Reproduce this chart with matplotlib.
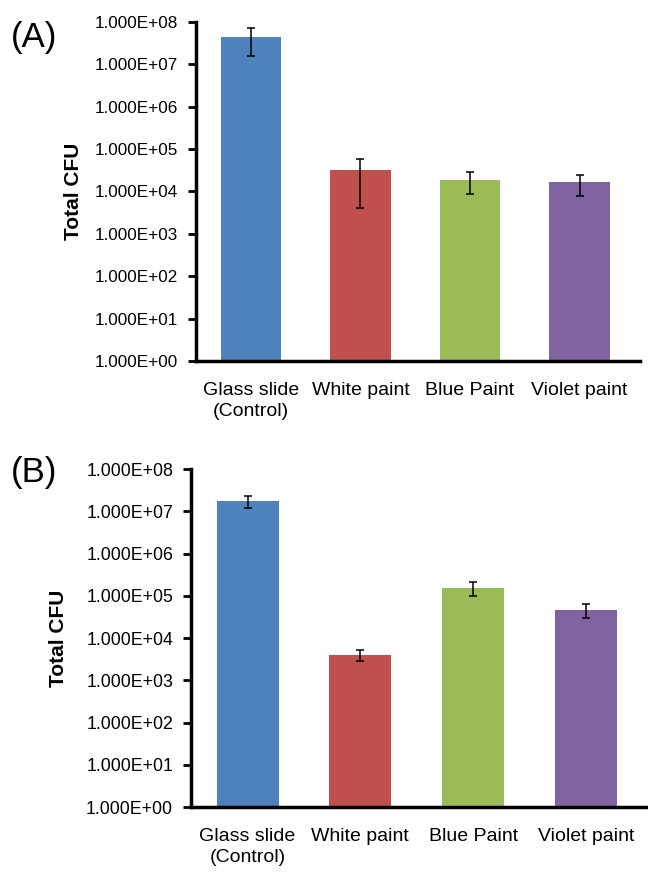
import matplotlib
matplotlib.use("Agg")
import matplotlib.pyplot as plt
from matplotlib.ticker import FixedLocator, FuncFormatter, NullLocator

plt.rcParams['font.family'] = ['Liberation Sans', 'DejaVu Sans']

# Data
materials = ['Glass slide\n(Control)', 'White paint', 'Blue Paint', 'Violet paint']
bar_colors = ['#4F81BD', '#C0504D', '#9BBB59', '#8064A2']

cfu_a = [4.5e7, 3.2e4, 1.9e4, 1.65e4]
err_a = [2.9e7, 2.8e4, 1.05e4, 8.5e3]

cfu_b = [1.75e7, 4.0e3, 1.55e5, 4.6e4]
err_b = [5.5e6, 1.1e3, 5.5e4, 1.7e4]

y_ticks = [10.0 ** k for k in range(0, 9)]


# Function to draw one log-scale bar panel.
def plot_cfu_panel(ax, values, errors, tick_size, label_x):
    x = list(range(len(materials)))
    ax.bar(x, values, width=0.55, color=bar_colors, zorder=2)
    ax.errorbar(x, values, yerr=errors, fmt='none', ecolor='black',
                elinewidth=1.1, capsize=2.8, capthick=1.1, zorder=3)

    ax.set_yscale('log')
    ax.set_ylim(1, 1e8)
    ax.set_xlim(-0.5, 3.55)
    ax.yaxis.set_major_locator(FixedLocator(y_ticks))
    ax.yaxis.set_minor_locator(NullLocator())
    ax.yaxis.set_major_formatter(FuncFormatter(lambda v, pos: f"{v:.3E}"))

    ax.set_xticks(x)
    ax.set_xticklabels(materials, fontsize=14, linespacing=1.35)
    ax.tick_params(axis='x', length=0, pad=15)
    ax.tick_params(axis='y', length=6, width=2, labelsize=tick_size, pad=7)

    for side in ['top', 'right']:
        ax.spines[side].set_visible(False)
    for side in ['left', 'bottom']:
        ax.spines[side].set_linewidth(2.5)

    ax.set_ylabel('Total CFU', fontsize=15, fontweight='bold')
    ax.yaxis.set_label_coords(label_x, 0.5)


fig = plt.figure(figsize=(6.48, 8.75), dpi=100)

ax_a = fig.add_axes([0.3025, 0.5874, 0.685, 0.3875])
plot_cfu_panel(ax_a, cfu_a, err_a, 12.3, -0.255)

ax_b = fig.add_axes([0.295, 0.0777, 0.705, 0.3863])
plot_cfu_panel(ax_b, cfu_b, err_b, 12.8, -0.27)

fig.text(0.052, 1 - 38 / 875, '(A)', fontsize=25, ha='center', va='center')
fig.text(0.052, 1 - 472 / 875, '(B)', fontsize=25, ha='center', va='center')

fig.savefig('out.png', dpi=100)
